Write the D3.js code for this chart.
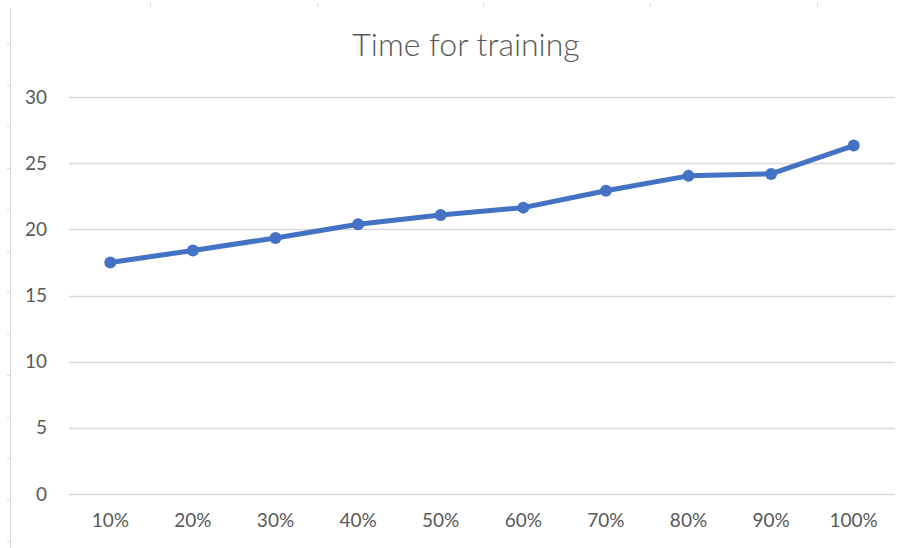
<!DOCTYPE html>
<html><head><meta charset="utf-8">
<script src="https://cdn.jsdelivr.net/npm/d3@7"></script>
<style>html,body{margin:0;padding:0;background:#fff;overflow:hidden}</style>
</head><body>
<script>
const categories = ["10%","20%","30%","40%","50%","60%","70%","80%","90%","100%"];
const values = [17.5, 18.4, 19.35, 20.38, 21.09, 21.64, 22.92, 24.04, 24.19, 26.33];
const yTicks = [0,5,10,15,20,25,30];
const title = "Time for training";

const W = 911, H = 548;
const svg = d3.select("body").append("svg").attr("width", W).attr("height", H);
const font = "Lato, Open Sans, sans-serif";

// sheet edge artifacts
svg.append("line").attr("x1",10.5).attr("x2",10.5).attr("y1",8).attr("y2",H)
  .attr("stroke","#d9d9d9").attr("stroke-width",1);
d3.range(43, H, 41.5).forEach(yy => svg.append("line").attr("x1",7).attr("x2",10)
  .attr("y1",Math.round(yy)+0.5).attr("y2",Math.round(yy)+0.5).attr("stroke","#d9d9d9"));
[150,317,483,650,817].forEach(xx => svg.append("line").attr("x1",xx+0.5).attr("x2",xx+0.5)
  .attr("y1",3).attr("y2",7).attr("stroke","#d9d9d9"));

const x = d3.scaleBand().domain(categories).range([69, 895]);
const y = d3.scaleLinear().domain([0,30]).range([494, 97]);

// gridlines
svg.append("g").selectAll("line").data(yTicks).join("line")
  .attr("x1",69).attr("x2",895)
  .attr("y1",d=>Math.round(y(d))+0.5).attr("y2",d=>Math.round(y(d))+0.5)
  .attr("stroke","#d9d9d9").attr("stroke-width",1.5);

// y axis labels
const yAxis = d3.axisLeft(y).tickValues(yTicks).tickSize(0).tickPadding(0);
const gy = svg.append("g").attr("transform","translate(47,0)").call(yAxis);
gy.select(".domain").remove();
gy.selectAll("text").attr("font-family",font).attr("font-size",19).attr("fill","#595959");

// x axis labels
const xAxis = d3.axisBottom(x).tickSize(0).tickPadding(0);
const gx = svg.append("g").attr("transform","translate(0,513)").call(xAxis);
gx.select(".domain").remove();
gx.selectAll("text").attr("font-family",font).attr("font-size",19).attr("fill","#595959");

// title
svg.append("text").attr("x",466).attr("y",56).attr("text-anchor","middle")
  .attr("font-family",font).attr("font-weight",300).attr("font-size",32).attr("fill","#595959").text(title);

// line
const pts = categories.map((c,i)=>[x(c)+x.bandwidth()/2, y(values[i])]);
svg.append("path").attr("d", d3.line()(pts)).attr("fill","none")
  .attr("stroke","#4472C4").attr("stroke-width",5).attr("stroke-linejoin","round").attr("stroke-linecap","round");
svg.append("g").selectAll("circle").data(pts).join("circle")
  .attr("cx",d=>d[0]).attr("cy",d=>d[1]).attr("r",6).attr("fill","#4472C4");
</script>
</body></html>
